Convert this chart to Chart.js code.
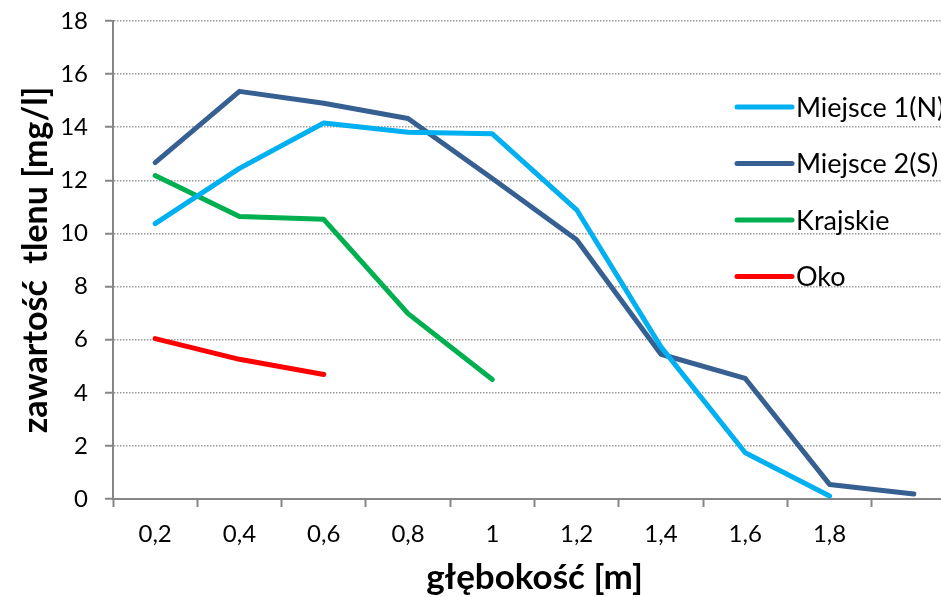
<!DOCTYPE html>
<html>
<head>
<meta charset="utf-8">
<script src="https://cdn.jsdelivr.net/npm/chart.js@4/dist/chart.umd.min.js"></script>
<style>
    html, body { margin: 0; padding: 0; background: #fff; overflow: hidden; }
    #wrap { width: 941px; height: 597px; overflow: hidden; }
</style>
</head>
<body>
<div id="wrap"><canvas id="oxygenChart" width="970" height="597"></canvas></div>
<script>
// depth categories (last one has no label on the axis)
const depthLabels = ['0,2', '0,4', '0,6', '0,8', '1', '1,2', '1,4', '1,6', '1,8', ''];
const yTicks = [0, 2, 4, 6, 8, 10, 12, 14, 16, 18];

const miejsce1 = [10.37, 12.45, 14.16, 13.81, 13.75, 10.89, 5.73, 1.74, 0.11, null];
const miejsce2 = [12.67, 15.35, 14.9, 14.33, 12.07, 9.76, 5.45, 4.54, 0.55, 0.19];
const krajskie = [12.18, 10.64, 10.53, 6.98, 4.5, null, null, null, null, null];
const oko = [6.04, 5.26, 4.69, null, null, null, null, null, null, null];

const seriesNames = ['Miejsce 1(N)', 'Miejsce 2(S)', 'Krajskie', 'Oko'];
const seriesColors = ['#00B0F0', '#376092', '#00B050', '#FF0000'];

const FONT = "Lato, 'Open Sans', sans-serif";
const axisGray = '#868686';

// legend drawn inside the plot, like the original sheet
const insideLegend = {
    id: 'insideLegend',
    afterDraw(chart) {
        const ctx = chart.ctx;
        const x0 = 737, x1 = 792, top = 107, step = 56.5;
        ctx.save();
        ctx.font = `27px ${FONT}`;
        ctx.textBaseline = 'middle';
        ctx.lineCap = 'round';
        chart.data.datasets.forEach((ds, i) => {
            const y = top + i * step;
            ctx.strokeStyle = ds.borderColor;
            ctx.lineWidth = 5;
            ctx.beginPath();
            ctx.moveTo(x0, y);
            ctx.lineTo(x1, y);
            ctx.stroke();
            ctx.fillStyle = '#000';
            ctx.fillText(ds.label, x1 + 4, y + 1);
        });
        ctx.restore();
    }
};

const makeSet = (label, data, color) => ({
    label, data,
    borderColor: color,
    backgroundColor: color,
    borderWidth: 5,
    borderCapStyle: 'round',
    borderJoinStyle: 'round',
    pointRadius: 0,
    pointHoverRadius: 0,
    tension: 0,
    spanGaps: false
});

new Chart(document.getElementById('oxygenChart'), {
    type: 'line',
    data: {
        labels: depthLabels,
        datasets: [
            makeSet(seriesNames[0], miejsce1, seriesColors[0]),
            makeSet(seriesNames[1], miejsce2, seriesColors[1]),
            makeSet(seriesNames[2], krajskie, seriesColors[2]),
            makeSet(seriesNames[3], oko, seriesColors[3])
        ]
    },
    options: {
        responsive: false,
        animation: false,
        devicePixelRatio: 1,
        layout: { padding: { top: 21, right: 14, left: 0, bottom: 0 } },
        plugins: { legend: { display: false }, tooltip: { enabled: false } },
        scales: {
            x: {
                type: 'category',
                offset: true,
                grid: {
                    offset: true,
                    drawOnChartArea: false,
                    drawTicks: true,
                    tickLength: 8,
                    tickColor: axisGray,
                    tickWidth: 2
                },
                border: { color: axisGray, width: 2 },
                ticks: {
                    color: '#000',
                    font: { family: FONT, size: 24 },
                    padding: 13,
                    maxRotation: 0,
                    autoSkip: false
                },
                title: {
                    display: true,
                    text: 'głębokość [m]',
                    color: '#000',
                    font: { family: FONT, size: 35, weight: 'bold' },
                    padding: { top: 0, bottom: -2 }
                },
                afterFit: s => { s.height = 98; }
            },
            y: {
                min: 0,
                max: 18,
                afterBuildTicks: s => { s.ticks = yTicks.map(v => ({ value: v })); },
                grid: {
                    color: '#9a9a9a',
                    lineWidth: 1.5,
                    drawTicks: true,
                    tickLength: 8,
                    tickColor: axisGray,
                    tickWidth: 2
                },
                border: { color: axisGray, width: 2, dash: [1.5, 1.5] },
                ticks: {
                    color: '#000',
                    font: { family: FONT, size: 24 },
                    padding: 17
                },
                title: {
                    display: true,
                    text: 'zawartość  tlenu [mg/l]',
                    color: '#000',
                    font: { family: FONT, size: 34, weight: 'bold' },
                    padding: { top: 16, bottom: 0 }
                },
                afterFit: s => {
                    s.width = 113;
                    s.paddingTop = 0;
                    s.paddingBottom = 0;
                }
            }
        }
    },
    plugins: [insideLegend]
});
</script>
</body>
</html>
